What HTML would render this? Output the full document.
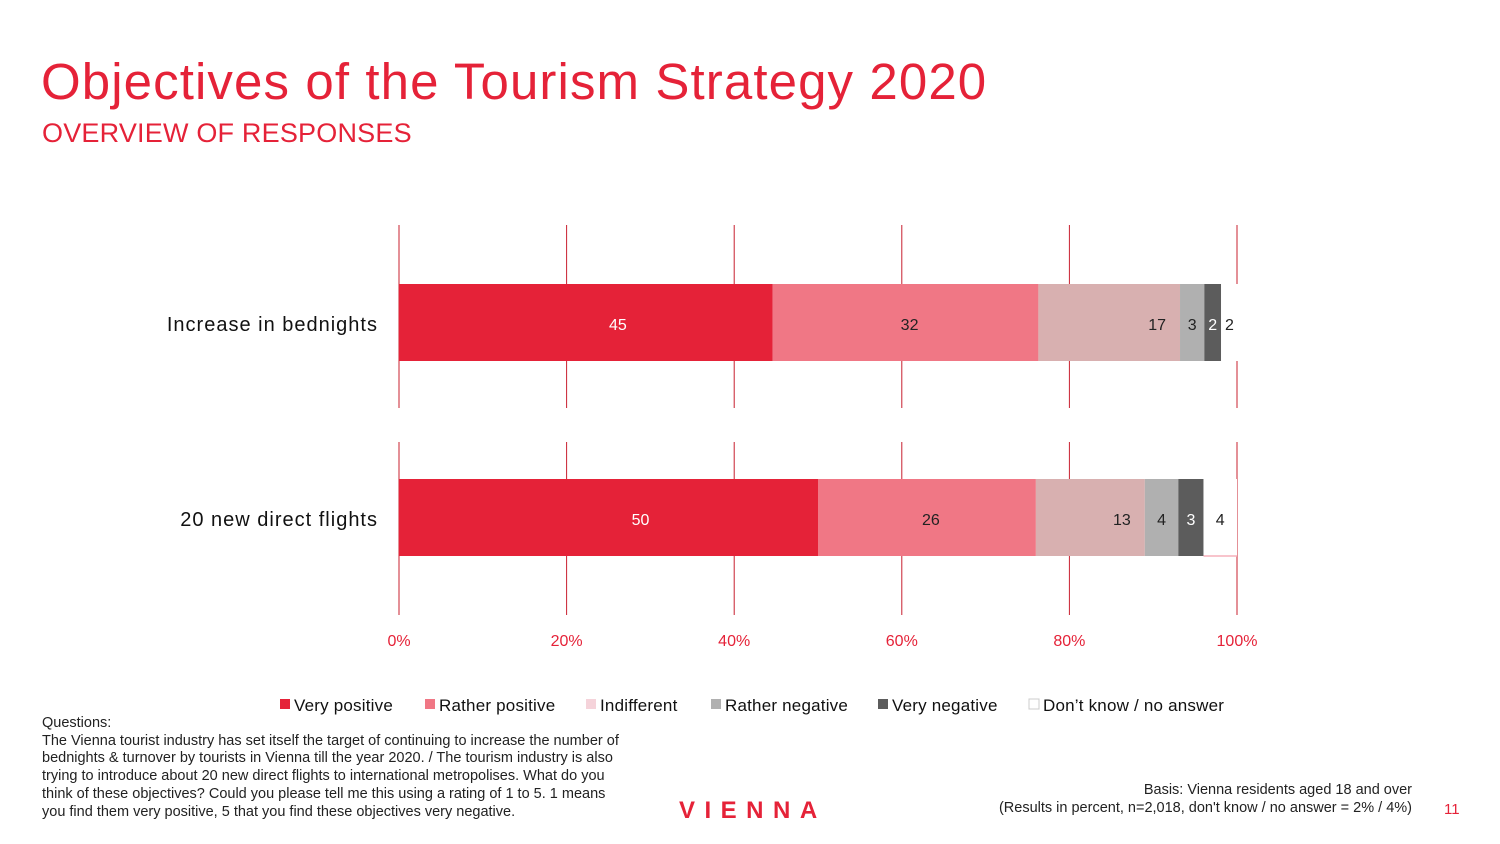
<!DOCTYPE html>
<html><head><meta charset="utf-8">
<style>
body{margin:0;width:1500px;height:844px;background:#fff;font-family:"Liberation Sans",sans-serif;position:relative;overflow:hidden}
.abs{position:absolute}
</style></head><body>
<div class="abs" style="left:41px;top:52px;font-size:51px;color:#e52238;letter-spacing:1.1px">Objectives of the Tourism Strategy 2020</div>
<div class="abs" style="left:42px;top:118px;font-size:27px;color:#e52238;letter-spacing:0.2px">OVERVIEW OF RESPONSES</div>
<svg class="abs" style="left:0;top:0" width="1500" height="844" id="chart"></svg>
<div class="abs" style="left:42px;top:715px;font-size:14.5px;line-height:17.7px;color:#222;width:588px">Questions:<br>The Vienna tourist industry has set itself the target of continuing to increase the number of bednights &amp; turnover by tourists in Vienna till the year 2020. / The tourism industry is also trying to introduce about 20 new direct flights to international metropolises. What do you think of these objectives? Could you please tell me this using a rating of 1 to 5. 1 means you find them very positive, 5 that you find these objectives very negative.</div>
<div class="abs" style="left:679px;top:797px;font-size:24px;font-weight:bold;color:#e52238;letter-spacing:9.5px">VIENNA</div>
<div class="abs" style="right:88px;top:782px;font-size:14.5px;line-height:17.7px;color:#222;text-align:right">Basis: Vienna residents aged 18 and over<br>(Results in percent, n=2,018, don't know / no answer = 2% / 4%)</div>
<div class="abs" style="left:1444px;top:801px;font-size:15px;color:#e52238">11</div>
<script>
const categories=["Increase in bednights","20 new direct flights"];
const seriesNames=["Very positive","Rather positive","Indifferent","Rather negative","Very negative","Don’t know / no answer"];
const veryPositive=[44.6,50];
const ratherPositive=[31.7,26];
const indifferent=[16.9,13];
const ratherNegative=[2.9,4];
const veryNegative=[2.0,3];
const dontKnow=[2,4];
const ticks=[0,20,40,60,80,100];
const series=[veryPositive,ratherPositive,indifferent,ratherNegative,veryNegative,dontKnow];
const colors=["#e52238","#f07785","#d8b0b0","#b0b0b0","#5c5c5c","#ffffff"];
const legendColors=["#e52238","#f07785","#f5d3da","#b0b0b0","#5c5c5c","#ffffff"];
const textColors=["#fff","#222","#222","#222","#fff","#222"];
const svg=document.getElementById('chart');const NS="http://www.w3.org/2000/svg";
const x=v=>399+v*8.38;
const barY=[284,479],barH=77;
function mk(t,a,p){const e=document.createElementNS(NS,t);for(const k in a)e.setAttribute(k,a[k]);(p||svg).appendChild(e);return e;}
const gridSegs=[[225,408],[442,615]];
ticks.forEach(t=>{gridSegs.forEach(s=>{const l=mk('line',{x1:x(t),x2:x(t),y1:s[0],y2:s[1],stroke:'#c8202f','stroke-width':1});

});
const tx=mk('text',{x:x(t),y:646,'text-anchor':'middle','font-size':16,fill:'#e52238'});tx.textContent=t+'%';

});
categories.forEach((c,i)=>{
const lb=mk('text',{x:378,y:barY[i]+47,'text-anchor':'end','font-size':20,fill:'#111','letter-spacing':1});lb.textContent=c;


let acc=0;
series.forEach((s,j)=>{const v=s[i];const r=mk('rect',{x:x(acc),y:barY[i],width:v*8.38,height:barH,fill:colors[j]});


if(j==5&&i==1){const bl=mk('line',{x1:x(acc),x2:x(acc+v),y1:barY[i]+barH,y2:barY[i]+barH,stroke:'#f5b0bb','stroke-width':1.5});

}
let cx=j==2?x(acc+v)-14:x(acc+v/2);
if(j<2)cx+=(j==0?32:4);
const t=mk('text',{x:cx,y:barY[i]+46,'text-anchor':j==2?'end':'middle','font-size':16,fill:textColors[j]});t.textContent=Math.round(v);


acc+=v;});});
const lx=[280,425,586,711,878,1029];
seriesNames.forEach((n,j)=>{const r=mk('rect',{x:lx[j],y:699,width:10,height:10,fill:legendColors[j],stroke:j==5?'#ccc':'none'});


const t=mk('text',{x:lx[j]+14,y:711,'font-size':17,fill:'#111','letter-spacing':0.2});t.textContent=n;

});
</script>
</body></html>
